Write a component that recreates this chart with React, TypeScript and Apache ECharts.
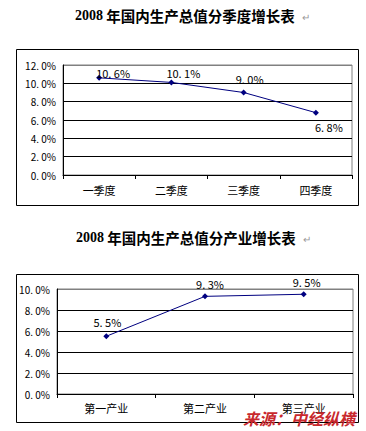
import React, { useEffect, useRef } from "react";
import * as echarts from "echarts";

const quarterCats = ["一季度", "二季度", "三季度", "四季度"];
const quarterVals = [10.6, 10.1, 9.0, 6.8];
const quarterTicks = [0, 2, 4, 6, 8, 10, 12];

const industryCats = ["第一产业", "第二产业", "第三产业"];
const industryVals = [5.5, 9.3, 9.5];
const industryTicks = [0, 2, 4, 6, 8, 10];

const title1 = "年国内生产总值分季度增长表";
const title2 = "年国内生产总值分产业增长表";
const titleYear = "2008";
const sourceText = "来源：中经纵横";

// label offsets (layout only)
const quarterLabelOffsets = [[14, -5], [12, -9], [6, -14], [13, 14]];
const industryLabelOffsets = [[1, -14], [5, -12], [3, -12]];

const fmt = (v: number) => {
  const s = v.toFixed(1).split(".");
  return `${s[0]}. ${s[1]}%`;
};

const CJK = '"Noto Sans CJK SC", "Noto Sans", sans-serif';

export default function App() {
  const ref = useRef<HTMLDivElement>(null);
  useEffect(() => {
    if (!ref.current) return;
    const chart = echarts.init(ref.current, null, { renderer: "svg" });

    const yAxisBase = (ticks: number[]) => ({
      type: "value",
      min: ticks[0],
      max: ticks[ticks.length - 1],
      interval: ticks[1] - ticks[0],
      axisLine: { show: true, lineStyle: { color: "#000", width: 1 } },
      axisTick: { show: false },
      axisLabel: {
        margin: 7,
        fontSize: 10,
        fontFamily: CJK,
        color: "#000",
        formatter: (v: number) => fmt(v),
      },
      splitLine: {
        show: true,
        lineStyle: {
          color: ticks.map((_, i) => (i === ticks.length - 1 ? "#808080" : "#000")),
          width: 1,
        },
      },
    });

    const xAxisBase = (cats: string[], margin: number) => ({
      type: "category",
      data: cats,
      boundaryGap: true,
      axisLine: { show: true, lineStyle: { color: "#000", width: 1 } },
      axisTick: { show: true, length: 4, lineStyle: { color: "#000" } },
      axisLabel: { margin, fontSize: 11, fontFamily: CJK, color: "#000" },
      splitLine: { show: false },
    });

    const mkData = (vals: number[], offs: number[][]) =>
      vals.map((v, i) => ({
        value: v,
        label: { position: "inside", offset: offs[i] },
      }));

    const lineSeries = (idx: number, vals: number[], offs: number[][]) => ({
      type: "line",
      xAxisIndex: idx,
      yAxisIndex: idx,
      data: mkData(vals, offs),
      symbol: "diamond",
      symbolSize: 6,
      lineStyle: { color: "#000080", width: 1 },
      itemStyle: { color: "#000080" },
      label: {
        show: true,
        fontSize: 11,
        fontFamily: CJK,
        color: "#000",
        formatter: (p: any) => fmt(p.value),
      },
    });

    const titleText = (x: number, y: number, t: string) => ({
      type: "text",
      x,
      y,
      style: {
        text: `{n|${titleYear}} {c|${t}}`,
        textVerticalAlign: "middle",
        verticalAlign: "middle",
        rich: {
          n: { fontFamily: '"Liberation Serif", serif', fontWeight: "bold", fontSize: 14, fill: "#000" },
          c: { fontFamily: CJK, fontWeight: "bold", fontSize: 14.5, fill: "#000" },
        },
      },
    });

    chart.setOption({
      animation: false,
      grid: [
        { left: 63, top: 65, width: 289, height: 110, show: true, borderColor: "#808080", borderWidth: 1 },
        { left: 57, top: 289, width: 296, height: 105, show: true, borderColor: "#808080", borderWidth: 1 },
      ],
      xAxis: [
        { gridIndex: 0, ...xAxisBase(quarterCats, 9) },
        { gridIndex: 1, ...xAxisBase(industryCats, 8) },
      ],
      yAxis: [
        { gridIndex: 0, ...yAxisBase(quarterTicks) },
        { gridIndex: 1, ...yAxisBase(industryTicks) },
      ],
      series: [
        lineSeries(0, quarterVals, quarterLabelOffsets),
        lineSeries(1, industryVals, industryLabelOffsets),
      ],
      graphic: [
        {
          type: "rect",
          shape: { x: 16.5, y: 49.5, width: 342, height: 156 },
          style: { fill: "none", stroke: "#000", lineWidth: 1 },
          z: -1,
        },
        {
          type: "rect",
          shape: { x: 16.5, y: 274.5, width: 342, height: 148 },
          style: { fill: "none", stroke: "#000", lineWidth: 1 },
          z: -1,
        },
        titleText(75, 15, title1),
        titleText(76, 237, title2),
        {
          type: "text",
          x: 302,
          y: 16,
          style: { text: "↵", fontSize: 10, fill: "#999", verticalAlign: "middle", fontFamily: CJK },
        },
        {
          type: "text",
          x: 303,
          y: 238,
          style: { text: "↵", fontSize: 10, fill: "#999", verticalAlign: "middle", fontFamily: CJK },
        },
        {
          type: "text",
          x: 243,
          y: 418,
          z: 100,
          style: {
            text: sourceText,
            fontSize: 16,
            fontWeight: "bold",
            fontStyle: "italic",
            fontFamily: CJK,
            fill: "#c8282d",
            verticalAlign: "middle",
          },
        },
      ],
    });
    return () => chart.dispose();
  }, []);
  return (
    <div
      ref={ref}
      style={{ position: "absolute", left: 0, top: 0, width: 366, height: 431, background: "#fff" }}
    />
  );
}
